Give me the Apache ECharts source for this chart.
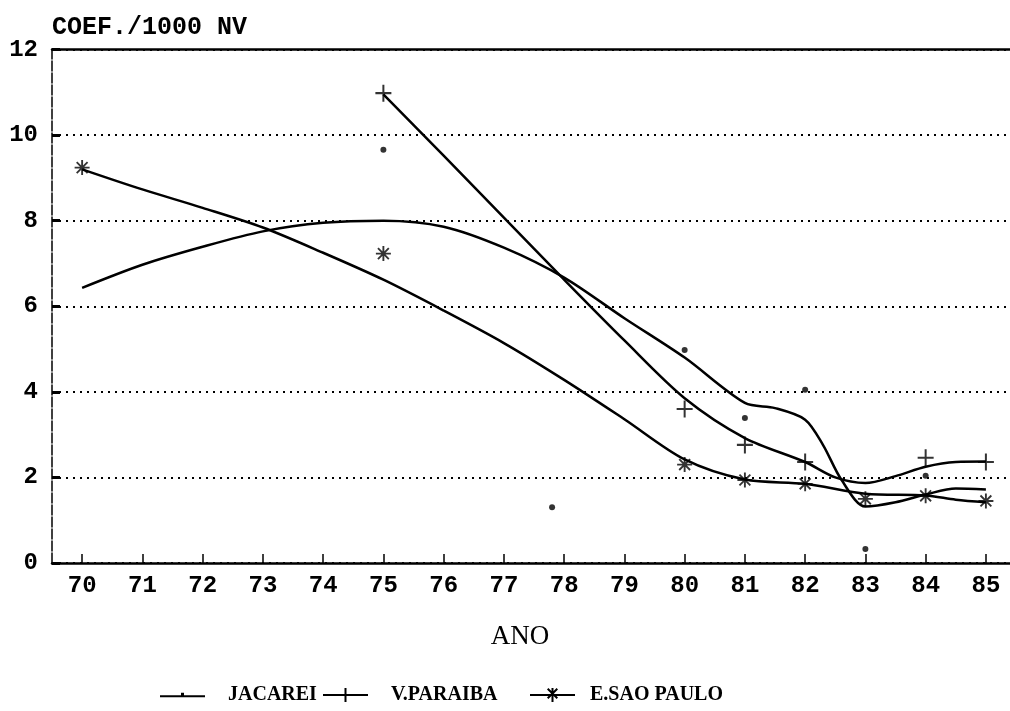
<!DOCTYPE html>
<html>
<head>
<meta charset="utf-8">
<script src="https://cdn.jsdelivr.net/npm/echarts@6/dist/echarts.min.js"></script>
<style>
html,body{margin:0;padding:0;background:#fff;}
#chart{width:1010px;height:711px;}
</style>
</head>
<body>
<div id="chart"></div>
<script>
// ---- data ----
const tickYears = [70,71,72,73,74,75,76,77,78,79,80,81,82,83,84,85];
const seriesNames = ['JACAREI','V.PARAIBA','E.SAO PAULO'];

// observed points (markers)
const jacMarkX = [75, 77.8, 80, 81, 82, 83, 84];
const jacMarkY = [9.66, 1.3, 4.98, 3.39, 4.05, 0.33, 2.04];
const vpMarkX  = [75, 80, 81, 82, 84, 85];
const vpMarkY  = [10.98, 3.6, 2.76, 2.36, 2.46, 2.36];
const espMarkX = [70, 75, 80, 81, 82, 83, 84, 85];
const espMarkY = [9.24, 7.23, 2.3, 1.94, 1.85, 1.5, 1.57, 1.45];

// fitted curves
const jacCurveX = [70,71,72,73,74,75,76,77,78,79,80,81,81.5,82,82.3,82.6,83,83.5,84,84.5,85];
const jacCurveY = [6.43,6.97,7.39,7.75,7.95,8.0,7.86,7.37,6.67,5.72,4.8,3.74,3.62,3.35,2.75,1.95,1.32,1.42,1.6,1.74,1.72];
const vpCurveX  = [75,76,77,78,79,80,81,82,82.5,83,83.5,84,84.5,85];
const vpCurveY  = [10.95,9.52,8.07,6.62,5.2,3.85,2.92,2.36,2.0,1.87,2.03,2.25,2.36,2.37];
const espCurveX = [70,71,72,73,74,75,76,77,78,79,80,81,82,83,84,84.5,85];
const espCurveY = [9.2,8.73,8.3,7.84,7.25,6.62,5.9,5.14,4.28,3.36,2.42,1.95,1.85,1.62,1.58,1.48,1.42];

const zip = (xs, ys) => xs.map((x, i) => [x, ys[i]]);

const plusPath = 'path://M0,7h16v2H0z M7,0h2v16H7z';
const starPath = 'path://M0,7h16v2H0z M7,0h2v16H7z M1.5,2.9L2.9,1.5L14.5,13.1L13.1,14.5z M13.1,1.5L14.5,2.9L2.9,14.5L1.5,13.1z';

const legIcons = [
  'path://M0,6h45v2H0z M21,3.6h3v3h-3z',
  'path://M0,6h45v2H0z M21.5,0h2v14h-2z',
  'path://M0,6h45v2H0z M21.5,0h2v14h-2z M17,1.4L18.4,0L28,9.6L26.6,11z M26.6,0L28,1.4L18.4,11L17,9.6z'
];
const legLefts = [155, 318, 525];
const legPads = [18, 18, 10];

const monoFont = 'Liberation Mono';
const lineStyle = {color:'#000', width:2.5};

const legends = seriesNames.map((n, i) => ({
  left:legLefts[i], top:680,
  itemWidth:45, itemHeight:14,
  textStyle:{fontFamily:'Liberation Serif', fontWeight:'bold', fontSize:20, color:'#000', padding:[0,0,0,legPads[i]]},
  data:[{name:n, icon:legIcons[i]}]
}));

const chart = echarts.init(document.getElementById('chart'), null, {renderer:'canvas'});
chart.setOption({
  backgroundColor:'#fff',
  animation:false,
  grid:{left:52, right:0, top:49.5, bottom:148},
  legend:legends,
  xAxis:[{
    type:'value', min:69.5, max:85.4,
    name:'ANO', nameLocation:'middle', nameGap:60,
    nameTextStyle:{fontFamily:'Liberation Serif', fontSize:27, color:'#000', padding:[0,22,0,0]},
    axisLine:{show:true, lineStyle:{color:'#000', width:2.5}},
    axisTick:{show:true, inside:true, length:9, customValues:tickYears, lineStyle:{color:'#000', width:1.5}},
    axisLabel:{show:true, customValues:tickYears, margin:11, formatter:v=>String(v),
      fontFamily:monoFont, fontWeight:'bold', fontSize:24, color:'#000'},
    splitLine:{show:false}
  },{
    type:'value', min:69.5, max:85.4, position:'top',
    axisLine:{show:true, lineStyle:{color:'#000', width:2.5}},
    axisTick:{show:false}, axisLabel:{show:false}, splitLine:{show:false}
  }],
  yAxis:{
    type:'value', min:0, max:12, interval:2,
    name:'COEF./1000 NV', nameLocation:'end', nameGap:22,
    nameTextStyle:{fontFamily:monoFont, fontWeight:'bold', fontSize:25, color:'#000', align:'left', verticalAlign:'middle'},
    axisLine:{show:true, lineStyle:{color:'#000', width:1.5, type:[10,2]}},
    axisTick:{show:true, inside:true, length:8, lineStyle:{color:'#000', width:3}},
    axisLabel:{margin:14, fontFamily:monoFont, fontWeight:'bold', fontSize:24, color:'#000'},
    splitLine:{show:true, lineStyle:{color:'#000', width:2, type:[2,5]}}
  },
  series:[
    {name:seriesNames[0], type:'line', smooth:0.3, showSymbol:false, data:zip(jacCurveX, jacCurveY), lineStyle:lineStyle, itemStyle:{color:'#000'}},
    {name:seriesNames[1], type:'line', smooth:0.3, showSymbol:false, data:zip(vpCurveX, vpCurveY), lineStyle:lineStyle, itemStyle:{color:'#000'}},
    {name:seriesNames[2], type:'line', smooth:0.3, showSymbol:false, data:zip(espCurveX, espCurveY), lineStyle:lineStyle, itemStyle:{color:'#000'}},
    {name:seriesNames[0], type:'scatter', symbol:'circle', symbolSize:6, data:zip(jacMarkX, jacMarkY), itemStyle:{color:'#000'}},
    {name:seriesNames[1], type:'scatter', symbol:plusPath, symbolSize:[16,17], data:zip(vpMarkX, vpMarkY), itemStyle:{color:'#000'}},
    {name:seriesNames[2], type:'scatter', symbol:starPath, symbolSize:15, data:zip(espMarkX, espMarkY), itemStyle:{color:'#000'}}
  ]
});
</script>
</body>
</html>
